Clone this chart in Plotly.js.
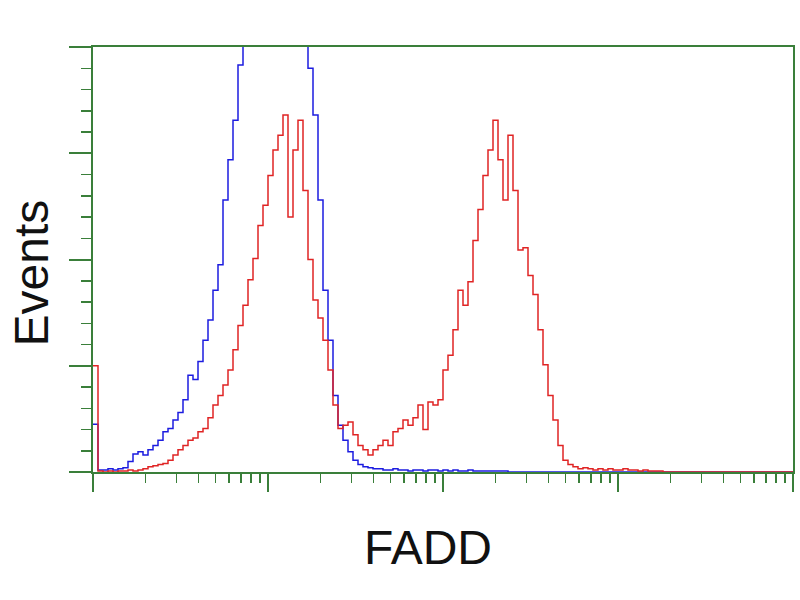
<!DOCTYPE html>
<html>
<head>
<meta charset="utf-8">
<script src="https://cdn.plot.ly/plotly-3.0.1.min.js"></script>
<style>html,body{margin:0;padding:0;background:#fff;}#chart{width:800px;height:600px;}</style>
</head>
<body>
<div id="chart"></div>
<script>
// Histogram bins: 35 bins per decade over 4 decades (log fluorescence)
const binsPerDecade = 35;
const xAxisTitle = "FADD";
const yAxisTitle = "Events";

// Control (blue) event counts per bin
const controlCounts = [
  45, 2, 2, 3, 2, 3, 4, 10, 17, 19,
  16, 21, 25, 30, 38, 41, 49, 56, 68, 91,
  87, 104, 124, 143, 171, 195, 256, 294, 331, 383,
  420, 440, 460, 480, 490, 500, 500, 495, 490, 480,
  470, 450, 420, 380, 336, 256, 171, 124, 72, 44,
  30, 19, 11, 7, 5, 4, 3, 3, 2, 2,
  3, 2, 2, 1, 2, 2, 1, 2, 2, 1,
  2, 1, 2, 1, 1, 2, 1, 1, 1, 1,
  1, 1, 1, 0, 0, 0, 0, 0, 0, 0,
  0, 0, 0, 0, 0, 0, 0, 0, 0, 0,
  0, 0, 0, 0, 0, 0, 0, 0, 0, 0,
  0, 0, 0, 0, 0, 0, 0, 0, 0, 0,
  0, 0, 0, 0, 0, 0, 0, 0, 0, 0,
  0, 0, 0, 0, 0, 0, 0, 0, 0, 0
];

// FADD-transfected (red) event counts per bin
const faddCounts = [
  100, 1, 0, 1, 0, 1, 1, 2, 1, 2,
  3, 5, 6, 7, 8, 11, 16, 21, 25, 30,
  32, 38, 41, 51, 63, 72, 82, 96, 115, 138,
  157, 181, 201, 232, 251, 279, 303, 317, 336, 240,
  303, 331, 265, 200, 162, 145, 124, 96, 63, 41,
  44, 47, 35, 25, 21, 16, 21, 25, 30, 25,
  38, 41, 49, 44, 51, 63, 40, 66, 63, 68,
  96, 110, 134, 171, 157, 179, 218, 247, 279, 303,
  331, 294, 256, 317, 265, 209, 211, 185, 167, 134,
  101, 72, 49, 25, 11, 7, 5, 3, 4, 3,
  2, 3, 2, 3, 2, 2, 3, 2, 2, 1,
  2, 1, 1, 1, 0, 0, 0, 0, 0, 0,
  0, 0, 0, 0, 0, 0, 0, 0, 0, 0,
  0, 0, 0, 0, 0, 0, 0, 0, 0, 0
];

function binEdges(n) {
  const xs = [];
  for (let i = 0; i <= n; i++) xs.push(Math.pow(10, i / binsPerDecade));
  return xs;
}
function stepY(arr) { return arr.concat([arr[arr.length - 1]]); }

const green = "#3a7f3a";

const traces = [
  {
    x: binEdges(controlCounts.length), y: stepY(controlCounts),
    type: "scatter", mode: "lines", line: {shape: "hv", color: "#1c1ce0", width: 1.5},
    hoverinfo: "skip", showlegend: false
  },
  {
    x: binEdges(faddCounts.length), y: stepY(faddCounts),
    type: "scatter", mode: "lines", line: {shape: "hv", color: "#e02424", width: 1.5},
    hoverinfo: "skip", showlegend: false
  }
];

const layout = {
  width: 800, height: 600,
  margin: {l: 93, r: 7, t: 47, b: 128},
  paper_bgcolor: "#ffffff", plot_bgcolor: "#ffffff",
  showlegend: false,
  xaxis: {
    type: "log", range: [0, 4], dtick: 1,
    showline: true, linecolor: green, linewidth: 2, mirror: true,
    ticks: "outside", ticklen: 18, tickwidth: 2, tickcolor: green,
    minor: {dtick: "D1", ticks: "outside", ticklen: 9, tickwidth: 1.5, tickcolor: green, showgrid: false},
    showgrid: false, zeroline: false, showticklabels: false, fixedrange: true
  },
  yaxis: {
    range: [0, 400], dtick: 100,
    showline: true, linecolor: green, linewidth: 2, mirror: true,
    ticks: "outside", ticklen: 22, tickwidth: 2, tickcolor: green,
    minor: {dtick: 20, ticks: "outside", ticklen: 10, tickwidth: 1.5, tickcolor: green, showgrid: false},
    showgrid: false, zeroline: false, showticklabels: false, fixedrange: true
  },
  annotations: [
    {text: xAxisTitle, xref: "paper", yref: "paper", x: 0.479, y: -0.178, xanchor: "center", yanchor: "middle",
     showarrow: false, font: {family: "Liberation Sans, Arial, sans-serif", size: 48, color: "#111"}},
    {text: yAxisTitle, xref: "paper", yref: "paper", x: -0.088, y: 0.468, xanchor: "center", yanchor: "middle",
     textangle: -90, showarrow: false, font: {family: "Liberation Sans, Arial, sans-serif", size: 48, color: "#111"}}
  ]
};

Plotly.newPlot("chart", traces, layout, {staticPlot: true, displayModeBar: false});
</script>
</body>
</html>
